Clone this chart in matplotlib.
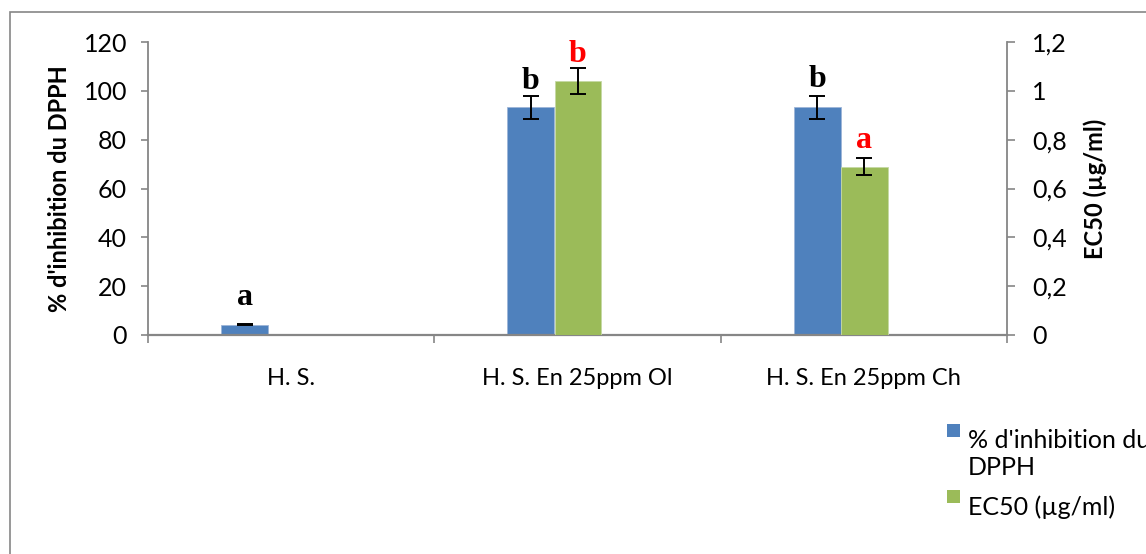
import numpy as np
import matplotlib
matplotlib.use("Agg")
import matplotlib.pyplot as plt
from matplotlib.patches import Rectangle

categories = ["H. S.", "H. S. En 25ppm Ol", "H. S. En 25ppm Ch"]
inhibition = [4.3, 93.3, 93.3]
inhibition_err = [0.3, 4.7, 4.7]
ec50 = [np.nan, 1.04, 0.69]
ec50_err = [np.nan, 0.052, 0.034]
letters_inh = ["a", "b", "b"]
letters_ec50 = ["", "b", "a"]
left_ticks = [0, 20, 40, 60, 80, 100, 120]
right_ticks = [0, 0.2, 0.4, 0.6, 0.8, 1.0, 1.2]
right_ticklabels = ["0", "0,2", "0,4", "0,6", "0,8", "1", "1,2"]

BLUE = "#4F81BD"
GREEN = "#9BBB59"
GREY = "#868686"
FONT = "Lato"

W, H = 1146, 554
fig = plt.figure(figsize=(W / 100, H / 100), dpi=100)
ax = fig.add_axes([148 / W, 1 - 335 / H, (1007 - 148) / W, (335 - 42) / H])
ax2 = ax.twinx()

x = np.arange(len(categories))
bw = 0.164
ax.bar(x - 0.1626, inhibition, bw, color=BLUE, edgecolor="#9db5d8", linewidth=0.6, zorder=2)
ax.errorbar(x - 0.1626, inhibition, yerr=inhibition_err, fmt="none", ecolor="black",
            elinewidth=1.4, capsize=6, capthick=1.4, zorder=3)
ax2.bar(x + 0.0017, ec50, bw, color=GREEN, edgecolor="#c6d9a4", linewidth=0.6, zorder=2)
ax2.errorbar(x + 0.0017, ec50, yerr=ec50_err, fmt="none", ecolor="black",
             elinewidth=1.4, capsize=6, capthick=1.4, zorder=3)

ax.set_xlim(-0.5, len(categories) - 0.5)
ax.set_ylim(0, 120)
ax2.set_ylim(0, 1.2)

# significance letters
inh_off = [13.3, 4.6, 6.5]
for i, (v, e, l) in enumerate(zip(inhibition, inhibition_err, letters_inh)):
    ax.annotate(l, (x[i] - 0.1626, v + e), xytext=(0, inh_off[i]), textcoords="offset points",
                ha="center", va="baseline", fontsize=23, fontweight="bold",
                family="Liberation Serif", color="black")
ec_off = [0, 4.8, 7.7]
for i, (v, e, l) in enumerate(zip(ec50, ec50_err, letters_ec50)):
    if l:
        ax2.annotate(l, (x[i] + 0.0017, v + e), xytext=(0, ec_off[i]), textcoords="offset points",
                     ha="center", va="baseline", fontsize=23, fontweight="bold",
                     family="Liberation Serif", color="red")

# axes styling
for a in (ax, ax2):
    for s in a.spines.values():
        s.set_visible(False)
ax.spines["left"].set_visible(True)
ax.spines["left"].set_color(GREY)
ax.spines["left"].set_linewidth(1.3)
ax.spines["bottom"].set_visible(True)
ax.spines["bottom"].set_color(GREY)
ax.spines["bottom"].set_linewidth(1.6)
ax2.spines["right"].set_visible(True)
ax2.spines["right"].set_color(GREY)
ax2.spines["right"].set_linewidth(1.3)

ax.set_yticks(left_ticks)
ax.set_yticklabels([str(t) for t in left_ticks])
ax.tick_params(axis="y", direction="out", length=5, width=1.2, color=GREY, pad=10, labelsize=18)
for t in ax.get_yticklabels():
    t.set_family(FONT)
ax2.set_yticks(right_ticks)
ax2.set_yticklabels(right_ticklabels)
ax2.tick_params(axis="y", direction="out", length=6, width=1.2, color=GREY, pad=12, labelsize=18)
for t in ax2.get_yticklabels():
    t.set_family(FONT)

ax.set_xticks(np.arange(len(categories) + 1) - 0.5, minor=True)
ax.set_xticks(x)
ax.set_xticklabels(categories, family=FONT, fontsize=17)
ax.tick_params(axis="x", which="major", length=0, pad=24)
ax.tick_params(axis="x", which="minor", direction="out", length=6, width=1.2, color=GREY)

ax.set_ylabel("% d'inhibition du DPPH", family=FONT, fontsize=17, fontweight="bold", labelpad=9)
ax2.set_ylabel("EC50 (µg/ml)", family=FONT, fontsize=17, fontweight="bold", labelpad=12)

# chart area border
fig.add_artist(Rectangle((10 / W, -0.1), 1.2, 1 - 12 / H + 0.1, transform=fig.transFigure,
                         fill=False, edgecolor=GREY, linewidth=1.2))

# legend
fig.add_artist(Rectangle((947 / W, 1 - 437 / H), 13 / W, 13 / H, transform=fig.transFigure,
                         facecolor=BLUE, edgecolor="none"))
fig.text(968 / W, 1 - 429 / H, "% d'inhibition du\nDPPH", family=FONT, fontsize=18,
         va="top", ha="left", linespacing=1.2, transform=fig.transFigure)
fig.add_artist(Rectangle((947 / W, 1 - 503 / H), 13 / W, 13 / H, transform=fig.transFigure,
                         facecolor=GREEN, edgecolor="none"))
fig.text(968 / W, 1 - 495 / H, "EC50 (µg/ml)", family=FONT, fontsize=18,
         va="top", ha="left", transform=fig.transFigure)

fig.savefig("out.png", dpi=100)
